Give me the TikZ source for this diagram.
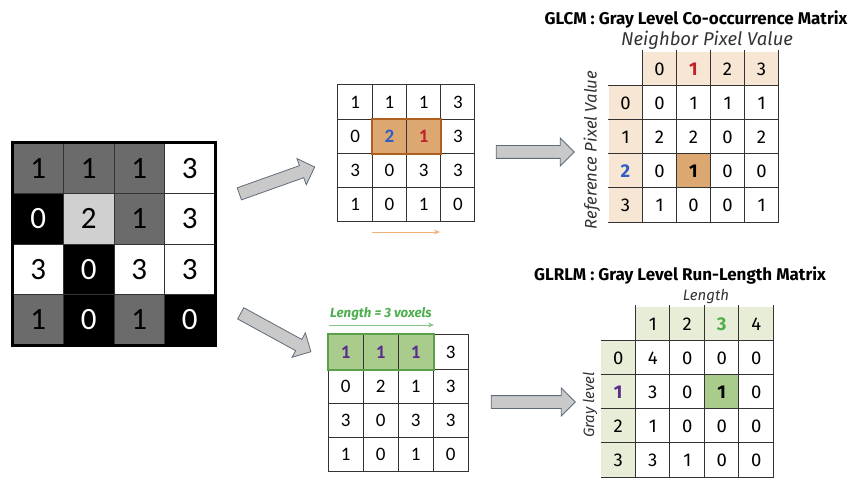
\documentclass[tikz,border=0pt]{standalone}
\usepackage{fontspec}
\setmainfont{Fira Sans}
\newfontfamily\calib{Carlito}
\usetikzlibrary{shapes.arrows,arrows.meta}
\definecolor{cgray}{HTML}{6B6B6B}
\definecolor{clgray}{HTML}{D0D0D0}
\definecolor{corange}{HTML}{DDA772}
\definecolor{cbrown}{HTML}{B0601E}
\definecolor{cblue}{HTML}{2F5DC8}
\definecolor{cred}{HTML}{C0202A}
\definecolor{cpurple}{HTML}{5B2C8C}
\definecolor{cgreen}{HTML}{A9CB8C}
\definecolor{cdgreen}{HTML}{5AA04A}
\definecolor{ctgreen}{HTML}{4FAE4F}
\definecolor{cbeige}{HTML}{F6E6D3}
\definecolor{clgreen}{HTML}{E8EDD7}
\definecolor{carrowfill}{HTML}{C9C9C9}
\definecolor{carrowdraw}{HTML}{5F6B7A}
\definecolor{clight}{HTML}{F0B27A}
\definecolor{cgline}{HTML}{333333}
\begin{document}
\begin{tikzpicture}[x=1pt,y=-1pt,
  lcell/.style={rectangle,minimum size=50.5pt,inner sep=0pt,draw=black!80,line width=0.8pt,
     font=\calib\fontsize{31}{31}\selectfont},
  gc/.style={fill=cgray,text=black},
  kc/.style={fill=black,text=white},
  wc/.style={fill=white,text=black},
  lc/.style={fill=clgray,text=black},
  no/.style={},
  ho/.style={fill=corange},
  hg/.style={fill=cgreen},
  mcell/.style={rectangle,inner sep=0pt,draw=cgline,line width=1pt,fill=white,
     font=\calib\fontsize{19}{19}\selectfont},
  tcell/.style={rectangle,inner sep=0pt,minimum width=34pt,minimum height=34pt,
     font=\fontsize{18.5}{18.5}\selectfont},
  rcell/.style={rectangle,inner sep=0pt,minimum width=34.5pt,minimum height=34pt,
     font=\fontsize{18.5}{18.5}\selectfont},
  barrow/.style={shape=single arrow,draw=carrowdraw,fill=carrowfill,line width=0.8pt,
     inner sep=6pt,single arrow head extend=7.5pt,minimum height=80pt},
  gline/.style={draw=cgline,line width=1pt},
  title/.style={font=\bfseries\fontsize{17}{17}\selectfont,inner sep=0pt},
  axlab/.style={font=\itshape\fontsize{18.5}{18.5}\selectfont,inner sep=0pt,text=black!80},
]
\useasboundingbox (0,0) rectangle (857,478);

% ---------- left image grid ----------
\foreach \r/\c/\v/\s in {0/0/1/gc,0/1/1/gc,0/2/1/gc,0/3/3/wc,
                         1/0/0/kc,1/1/2/lc,1/2/1/gc,1/3/3/wc,
                         2/0/3/wc,2/1/0/kc,2/2/3/wc,2/3/3/wc,
                         3/0/1/gc,3/1/0/kc,3/2/1/gc,3/3/0/kc}
  \node[lcell,\s] (L\r\c) at ({38.25+50.5*\c},{168.25+50.5*\r}) {\v};
\draw[line width=2.5pt] (L00.north west) rectangle (L33.south east);

% ---------- top middle grid ----------
\foreach \r/\c/\v/\s in {0/0/1/no,0/1/1/no,0/2/1/no,0/3/3/no,
                         1/0/0/no,1/1/{\textbf{\textcolor{cblue}{2}}}/ho,1/2/{\textbf{\textcolor{cred}{1}}}/ho,1/3/3/no,
                         2/0/3/no,2/1/0/no,2/2/3/no,2/3/3/no,
                         3/0/1/no,3/1/0/no,3/2/1/no,3/3/0/no}
  \node[mcell,minimum size=34.25pt,\s] (M\r\c) at ({355.1+34.25*\c},{102.1+34.25*\r}) {\v};
\draw[draw=cbrown,line width=2pt] (M11.north west) rectangle (M12.south east);
\coordinate (oa1) at (372,232);
\coordinate (oa2) at (440,232);
\draw[clight,line width=0.8pt,-{Stealth[length=6pt,width=5pt]}] (oa1) -- (oa2);

% ---------- bottom middle grid ----------
\foreach \r/\c/\v/\s in {0/0/{\textbf{\textcolor{cpurple}{1}}}/hg,0/1/{\textbf{\textcolor{cpurple}{1}}}/hg,0/2/{\textbf{\textcolor{cpurple}{1}}}/hg,0/3/3/no,
                         1/0/0/no,1/1/2/no,1/2/1/no,1/3/3/no,
                         2/0/3/no,2/1/0/no,2/2/3/no,2/3/3/no,
                         3/0/1/no,3/1/0/no,3/2/1/no,3/3/0/no}
  \node[mcell,minimum width=35pt,minimum height=34.2pt,\s] (B\r\c) at ({345.8+35*\c},{352.1+34.2*\r}) {\v};
\draw[draw=cdgreen,line width=2pt] (B00.north west) rectangle (B02.south east);
\node[font=\bfseries\itshape\fontsize{13.3}{13.3}\selectfont,text=ctgreen,inner sep=0pt] (lenlab) at (381,314) {Length = 3 voxels};
\coordinate (ga1) at (329,325);
\coordinate (ga2) at (434,325);
\draw[ctgreen!70,line width=0.8pt,-{Stealth[length=6pt,width=5pt]}] (ga1) -- (ga2);

% ---------- block arrows ----------
\node[barrow,rotate=19.6] (A1) at (274,181.5) {};
\node[barrow,rotate=-28.7] (A2) at (273,331) {};
\node[barrow,minimum height=78pt] (A3) at (532,152) {};
\node[barrow,minimum height=84pt] (A4) at (530,402) {};

% ---------- GLCM ----------
\node[title] (glcmt) at (696,19) {GLCM : Gray Level Co-occurrence Matrix};
\node[axlab] (nbl) at (707,40) {Neighbor Pixel Value};
\node[axlab,font=\itshape\fontsize{16.7}{16.7}\selectfont,rotate=90] (rpl) at (592,150) {Reference Pixel Value};
% header row
\foreach \c/\v in {1/0,2/{\textbf{\textcolor{cred}{1}}},3/2,4/3}
  \node[tcell,fill=cbeige] (GH\c) at ({625.5+34*\c},69) {\v};
% header column
\foreach \r/\v in {1/0,2/1,3/{\textbf{\textcolor{cblue}{2}}},4/3}
  \node[tcell,fill=cbeige] (GV\r) at (625.5,{69+34*\r}) {\v};
% data
\foreach \r/\c/\v/\s in {1/1/0/no,1/2/1/no,1/3/1/no,1/4/1/no,
                         2/1/2/no,2/2/2/no,2/3/0/no,2/4/2/no,
                         3/1/0/no,3/2/{\textbf{1}}/ho,3/3/0/no,3/4/0/no,
                         4/1/1/no,4/2/0/no,4/3/0/no,4/4/1/no}
  \node[tcell,fill=white,\s] (G\r\c) at ({625.5+34*\c},{69+34*\r}) {\v};
\foreach \r in {1,2,3,4}
  \draw[gline] (GV\r.north west) -- (G\r4.north east);
\draw[gline] (GV4.south west) -- (G44.south east);
\foreach \c in {1,2,3,4}
  \draw[gline] ([yshift=2pt]GH\c.north west) -- (G4\c.south west);
\draw[gline] ([yshift=2pt]GH4.north east) -- (G44.south east);

% ---------- GLRLM ----------
\node[title] (glrlmt) at (680,275) {GLRLM : Gray Level Run-Length Matrix};
\node[axlab,font=\itshape\fontsize{15}{15}\selectfont] (lenl) at (706,297) {Length};
\node[axlab,font=\itshape\fontsize{15}{15}\selectfont,rotate=90] (gll) at (590,405) {Gray level};
\foreach \c/\v in {1/1,2/2,3/{\textbf{\textcolor{ctgreen}{3}}},4/4}
  \node[rcell,fill=clgreen] (RH\c) at ({618.25+34.5*\c},324) {\v};
\foreach \r/\v in {1/0,2/{\textbf{\textcolor{cpurple}{1}}},3/2,4/3}
  \node[rcell,fill=clgreen] (RV\r) at (618.25,{324+34*\r}) {\v};
\foreach \r/\c/\v/\s in {1/1/4/no,1/2/0/no,1/3/0/no,1/4/0/no,
                         2/1/3/no,2/2/0/no,2/3/{\textbf{1}}/hg,2/4/0/no,
                         3/1/1/no,3/2/0/no,3/3/0/no,3/4/0/no,
                         4/1/3/no,4/2/1/no,4/3/0/no,4/4/0/no}
  \node[rcell,fill=white,\s] (R\r\c) at ({618.25+34.5*\c},{324+34*\r}) {\v};
\foreach \r in {1,2,3,4}
  \draw[gline] (RV\r.north west) -- (R\r4.north east);
\draw[gline] (RV4.south west) -- (R44.south east);
\foreach \c in {1,2,3,4}
  \draw[gline] ([yshift=2pt]RH\c.north west) -- (R4\c.south west);
\draw[gline] ([yshift=2pt]RH4.north east) -- (R44.south east);
\end{tikzpicture}
\end{document}
